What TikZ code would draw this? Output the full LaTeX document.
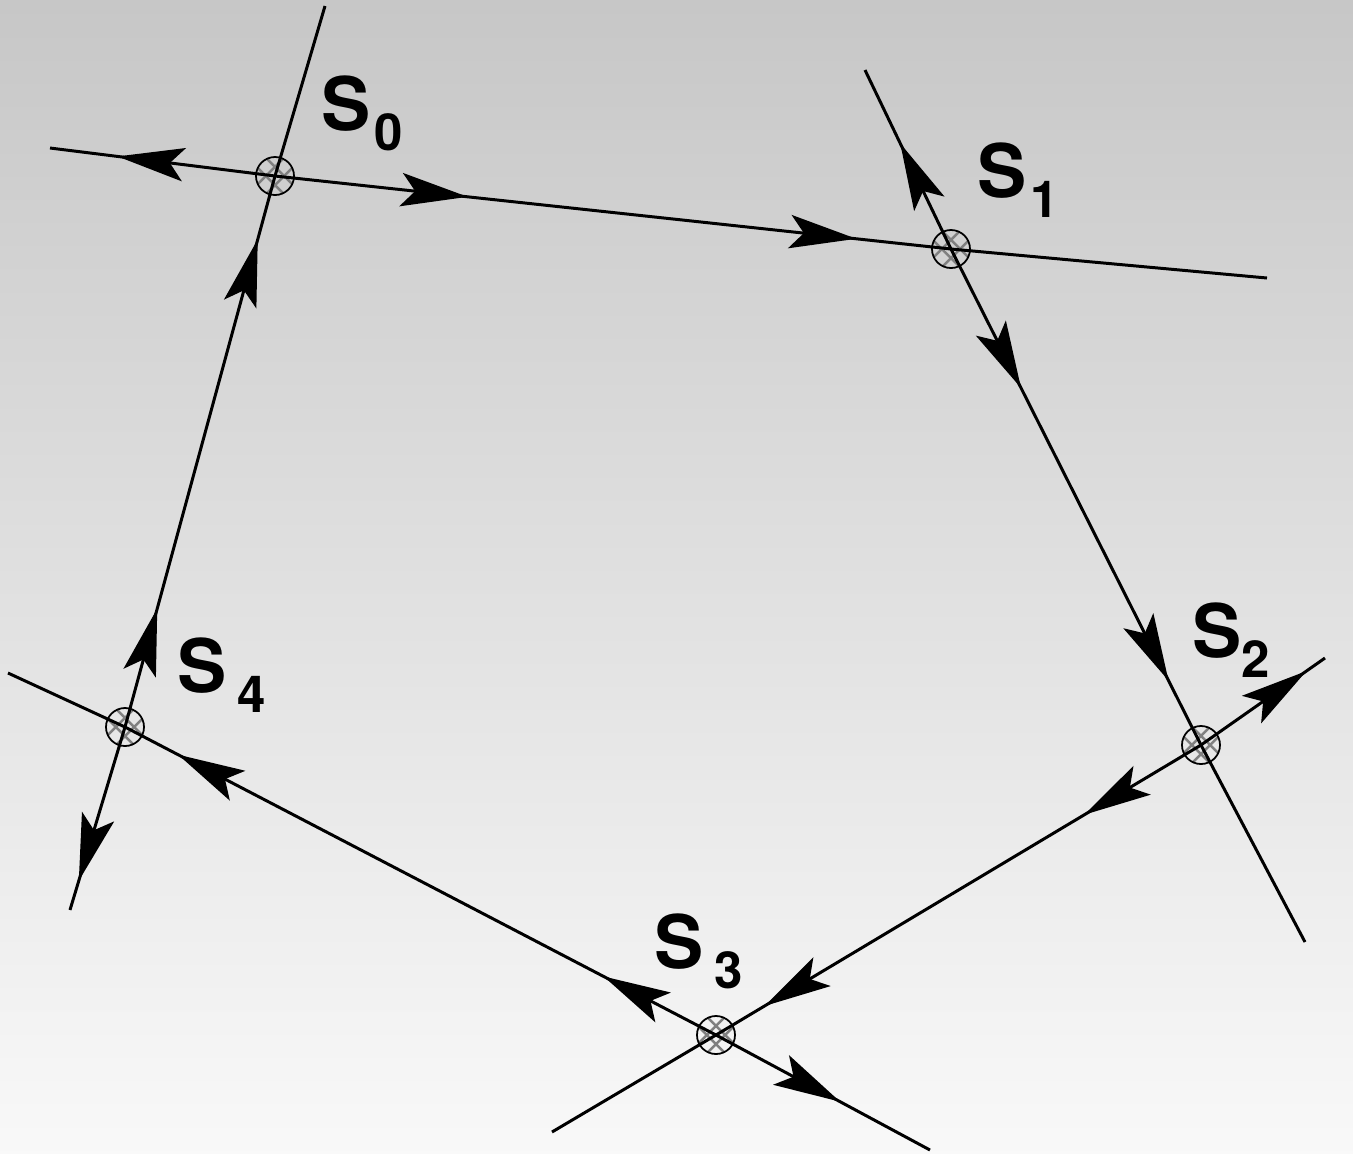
\documentclass[tikz,border=0pt]{standalone}
\usepackage{fontspec}
\setsansfont{TeX Gyre Heros}
\usetikzlibrary{arrows.meta,decorations.markings,calc}

\newcommand{\idx}[2][0pt]{\hspace{#1}\raisebox{-5.9pt}{\fontsize{14.5}{14.5}\selectfont #2}}

\tikzset{
  flowtip/.tip={Stealth[length=19pt,width=9.5pt,inset=4pt]},
  manifold/.style={line width=0.85pt},
  flow/.style={postaction={decorate,decoration={markings,
    mark=at position #1 with {\arrow{flowtip}}}}},
  hatch/.style={black!50, line width=0.7pt},
  saddle/.style={circle, draw, line width=0.5pt, minimum size=0.38cm, inner sep=0pt,
    path picture={
      \foreach \o in {-0.065,0.065} {
        \draw[hatch] ($(path picture bounding box.center)+(45:\o cm)+(-45:0.3cm)$) -- +(135:0.6cm);
        \draw[hatch] ($(path picture bounding box.center)+(135:\o cm)+(225:0.3cm)$) -- +(45:0.6cm);
      }}},
  lab/.style={anchor=base west, inner sep=0pt, font=\sffamily\bfseries\fontsize{21}{25}\selectfont},
}

\begin{document}
\begin{tikzpicture}[x=0.01cm, y=-0.01cm]
  % background
  \shade[top color=black!22, bottom color=black!2.5] (0,0) rectangle (1353,1153);
  \useasboundingbox (0,0) rectangle (1353,1153);

  % saddle points
  \node[saddle] (s0) at (275,176) {};
  \node[saddle] (s1) at (951,249) {};
  \node[saddle] (s2) at (1201,745) {};
  \node[saddle] (s3) at (716,1035) {};
  \node[saddle] (s4) at (125,727) {};

  % free ends of the manifolds
  \coordinate (e0L) at (50,148);
  \coordinate (e0T) at (325,6);
  \coordinate (e1T) at (865,70);
  \coordinate (e1R) at (1267,278);
  \coordinate (e2R) at (1325,658);
  \coordinate (e2B) at (1305,942);
  \coordinate (e3L) at (552,1132);
  \coordinate (e3R) at (930,1150);
  \coordinate (e4L) at (8,673);
  \coordinate (e4B) at (70,910);

  % connections between saddles
  \draw[manifold, flow=0.285, flow=0.86] (s0.center) -- (s1.center);
  \draw[manifold, flow=0.28, flow=0.87] (s1.center) -- (s2.center);
  \draw[manifold, flow=0.24, flow=0.90] (s2.center) -- (s3.center);
  \draw[manifold, flow=0.19, flow=0.91] (s3.center) -- (s4.center);
  \draw[manifold, flow=0.215, flow=0.885] (s4.center) -- (s0.center);

  % outer branches
  \draw[manifold, flow=0.70] (s0.center) -- (e0L);
  \draw[manifold] (s0.center) -- (e0T);
  \draw[manifold, flow=0.59] (s1.center) -- (e1T);
  \draw[manifold] (s1.center) -- (e1R);
  \draw[manifold, flow=0.85] (s2.center) -- (e2R);
  \draw[manifold] (s2.center) -- (e2B);
  \draw[manifold] (s3.center) -- (e3L);
  \draw[manifold, flow=0.58] (s3.center) -- (e3R);
  \draw[manifold] (s4.center) -- (e4L);
  \draw[manifold, flow=0.84] (s4.center) -- (e4B);

  % labels
  \node[lab] (l0) at (321,130) {S\idx[1pt]{0}};
  \node[lab] (l1) at (977,197) {S\idx[1pt]{1}};
  \node[lab] (l2) at (1192,657) {S\idx{2}};
  \node[lab] (l3) at (654,968) {S\idx[3pt]{3}};
  \node[lab] (l4) at (177,692) {S\idx[3pt]{4}};
\end{tikzpicture}
\end{document}
